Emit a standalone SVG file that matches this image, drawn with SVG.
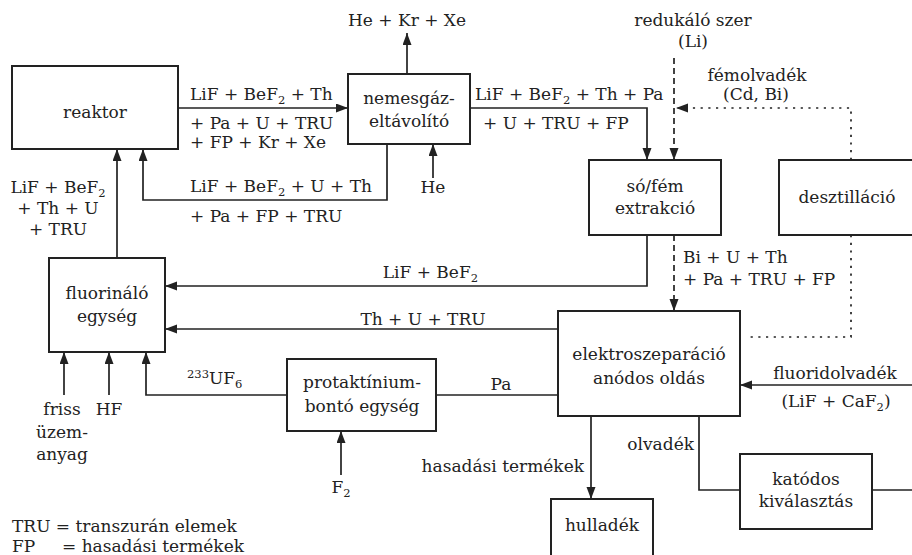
<svg xmlns="http://www.w3.org/2000/svg" width="912" height="555" viewBox="0 0 912 555">
<style>
text{font-family:'DejaVu Serif','Liberation Serif',serif;font-size:17px;fill:#222}
.m{text-anchor:middle}
.e{text-anchor:end}
.box{fill:#fff;stroke:#222;stroke-width:2}
.ln{fill:none;stroke:#222;stroke-width:1.7}
.dash{stroke-dasharray:6 4}
.dot{stroke-dasharray:2.2 5.5}
.sub{font-size:11.5px}
</style>
<defs>
<marker id="ah" markerUnits="userSpaceOnUse" markerWidth="13" markerHeight="10" refX="12" refY="4.5" orient="auto">
<path d="M0,0 L12,4.5 L0,9 z" fill="#222"/>
</marker>
</defs>
<rect width="912" height="555" fill="#fff"/>

<g id="connectors">
<line class="ln" x1="178" y1="108" x2="348" y2="108" marker-end="url(#ah)"/>
<line class="ln" x1="407" y1="74" x2="407" y2="33" marker-end="url(#ah)"/>
<path class="ln" d="M387,144 V200 H143 V149" marker-end="url(#ah)"/>
<line class="ln" x1="433" y1="178" x2="433" y2="144" marker-end="url(#ah)"/>
<line class="ln" x1="117" y1="258" x2="117" y2="149" marker-end="url(#ah)"/>
<path class="ln" d="M470,108 H647 V160" marker-end="url(#ah)"/>
<line class="ln dash" x1="674" y1="58" x2="674" y2="160" marker-end="url(#ah)"/>
<path class="ln dot" d="M851,160 V108 H676" marker-end="url(#ah)"/>
<path class="ln" d="M647,235 V286 H165" marker-end="url(#ah)"/>
<line class="ln dash" x1="674" y1="235" x2="674" y2="311" marker-end="url(#ah)"/>
<path class="ln dot" d="M851,235 V337 H746"/>
<line class="ln" x1="558" y1="329" x2="165" y2="329" marker-end="url(#ah)"/>
<line class="ln" x1="558" y1="395" x2="436" y2="395"/>
<line class="ln" x1="912" y1="385" x2="740" y2="385" marker-end="url(#ah)"/>
<line class="ln" x1="591" y1="416" x2="591" y2="499" marker-end="url(#ah)"/>
<path class="ln" d="M699,416 V490 H740"/>
<line class="ln" x1="872" y1="490" x2="912" y2="490"/>
<line class="ln" x1="64" y1="395" x2="64" y2="352" marker-end="url(#ah)"/>
<line class="ln" x1="109" y1="395" x2="109" y2="352" marker-end="url(#ah)"/>
<path class="ln" d="M287,395 H146 V352" marker-end="url(#ah)"/>
<line class="ln" x1="341" y1="475" x2="341" y2="431" marker-end="url(#ah)"/>
</g>

<g id="labels">
<text x="190" y="100">LiF + BeF<tspan class="sub" dy="4">2</tspan><tspan dy="-4"> + Th</tspan></text>
<text x="190" y="129">+ Pa + U + TRU</text>
<text x="190" y="148">+ FP + Kr + Xe</text>
<text class="m" x="407" y="26">He + Kr + Xe</text>
<text x="190" y="192">LiF + BeF<tspan class="sub" dy="4">2</tspan><tspan dy="-4"> + U + Th</tspan></text>
<text x="190" y="222">+ Pa + FP + TRU</text>
<text class="m" x="433" y="193">He</text>
<text class="m" x="58" y="193">LiF + BeF<tspan class="sub" dy="4">2</tspan></text>
<text class="m" x="58" y="214">+ Th + U</text>
<text class="m" x="58" y="235">+ TRU</text>
<text x="475" y="100">LiF + BeF<tspan class="sub" dy="4">2</tspan><tspan dy="-4"> + Th + Pa</tspan></text>
<text x="483" y="129">+ U + TRU + FP</text>
<text class="m" x="693" y="26">redukáló szer</text>
<text class="m" x="693" y="47">(Li)</text>
<text class="m" x="757" y="81">fémolvadék</text>
<text class="m" x="756" y="100">(Cd, Bi)</text>
<text class="e" x="478" y="278">LiF + BeF<tspan class="sub" dy="4">2</tspan></text>
<text x="683" y="263">Bi + U + Th</text>
<text x="683" y="285">+ Pa + TRU + FP</text>
<text class="m" x="423" y="325">Th + U + TRU</text>
<text class="m" x="501" y="390">Pa</text>
<text class="m" x="835" y="379">fluoridolvadék</text>
<text class="m" x="836" y="407">(LiF + CaF<tspan class="sub" dy="4">2</tspan><tspan dy="-4">)</tspan></text>
<text class="e" x="584" y="472">hasadási termékek</text>
<text class="e" x="694" y="450">olvadék</text>
<text class="m" x="62" y="415">friss</text>
<text class="m" x="62" y="438">üzem-</text>
<text class="m" x="62" y="460">anyag</text>
<text class="m" x="109" y="415">HF</text>
<text x="187" y="384"><tspan class="sub" dy="-6">233</tspan><tspan dy="6">UF</tspan><tspan class="sub" dy="4">6</tspan></text>
<text class="m" x="341" y="493">F<tspan class="sub" dy="4">2</tspan></text>
<text x="12" y="532">TRU = transzurán elemek</text>
<text x="12" y="552">FP</text>
<text x="62" y="552">= hasadási termékek</text>
</g>

<g id="reaktor">
<rect class="box" x="12" y="66" width="166" height="83"/>
<text class="m" x="95" y="118">reaktor</text>
</g>
<g id="nemesgaz">
<rect class="box" x="348" y="74" width="122" height="70"/>
<text class="m" x="409" y="104">nemesgáz-</text>
<text class="m" x="409" y="127">eltávolító</text>
</g>
<g id="sofem">
<rect class="box" x="589" y="160" width="132" height="75"/>
<text class="m" x="655" y="192">só/fém</text>
<text class="m" x="655" y="214">extrakció</text>
</g>
<g id="desztillacio">
<rect class="box" x="779" y="160" width="150" height="75"/>
<text class="m" x="847" y="203">desztilláció</text>
</g>
<g id="fluorinalo">
<rect class="box" x="49" y="258" width="116" height="94"/>
<text class="m" x="107" y="299">fluorináló</text>
<text class="m" x="107" y="322">egység</text>
</g>
<g id="elektro">
<rect class="box" x="558" y="311" width="182" height="105"/>
<text class="m" x="649" y="360">elektroszeparáció</text>
<text class="m" x="649" y="384">anódos oldás</text>
</g>
<g id="protakt">
<rect class="box" x="287" y="359" width="149" height="72"/>
<text class="m" x="362" y="388">protaktínium-</text>
<text class="m" x="362" y="412">bontó egység</text>
</g>
<g id="hulladek">
<rect class="box" x="551" y="499" width="102" height="70"/>
<text class="m" x="602" y="531">hulladék</text>
</g>
<g id="katodos">
<rect class="box" x="740" y="454" width="132" height="75"/>
<text class="m" x="806" y="485">katódos</text>
<text class="m" x="806" y="507">kiválasztás</text>
</g>
</svg>
